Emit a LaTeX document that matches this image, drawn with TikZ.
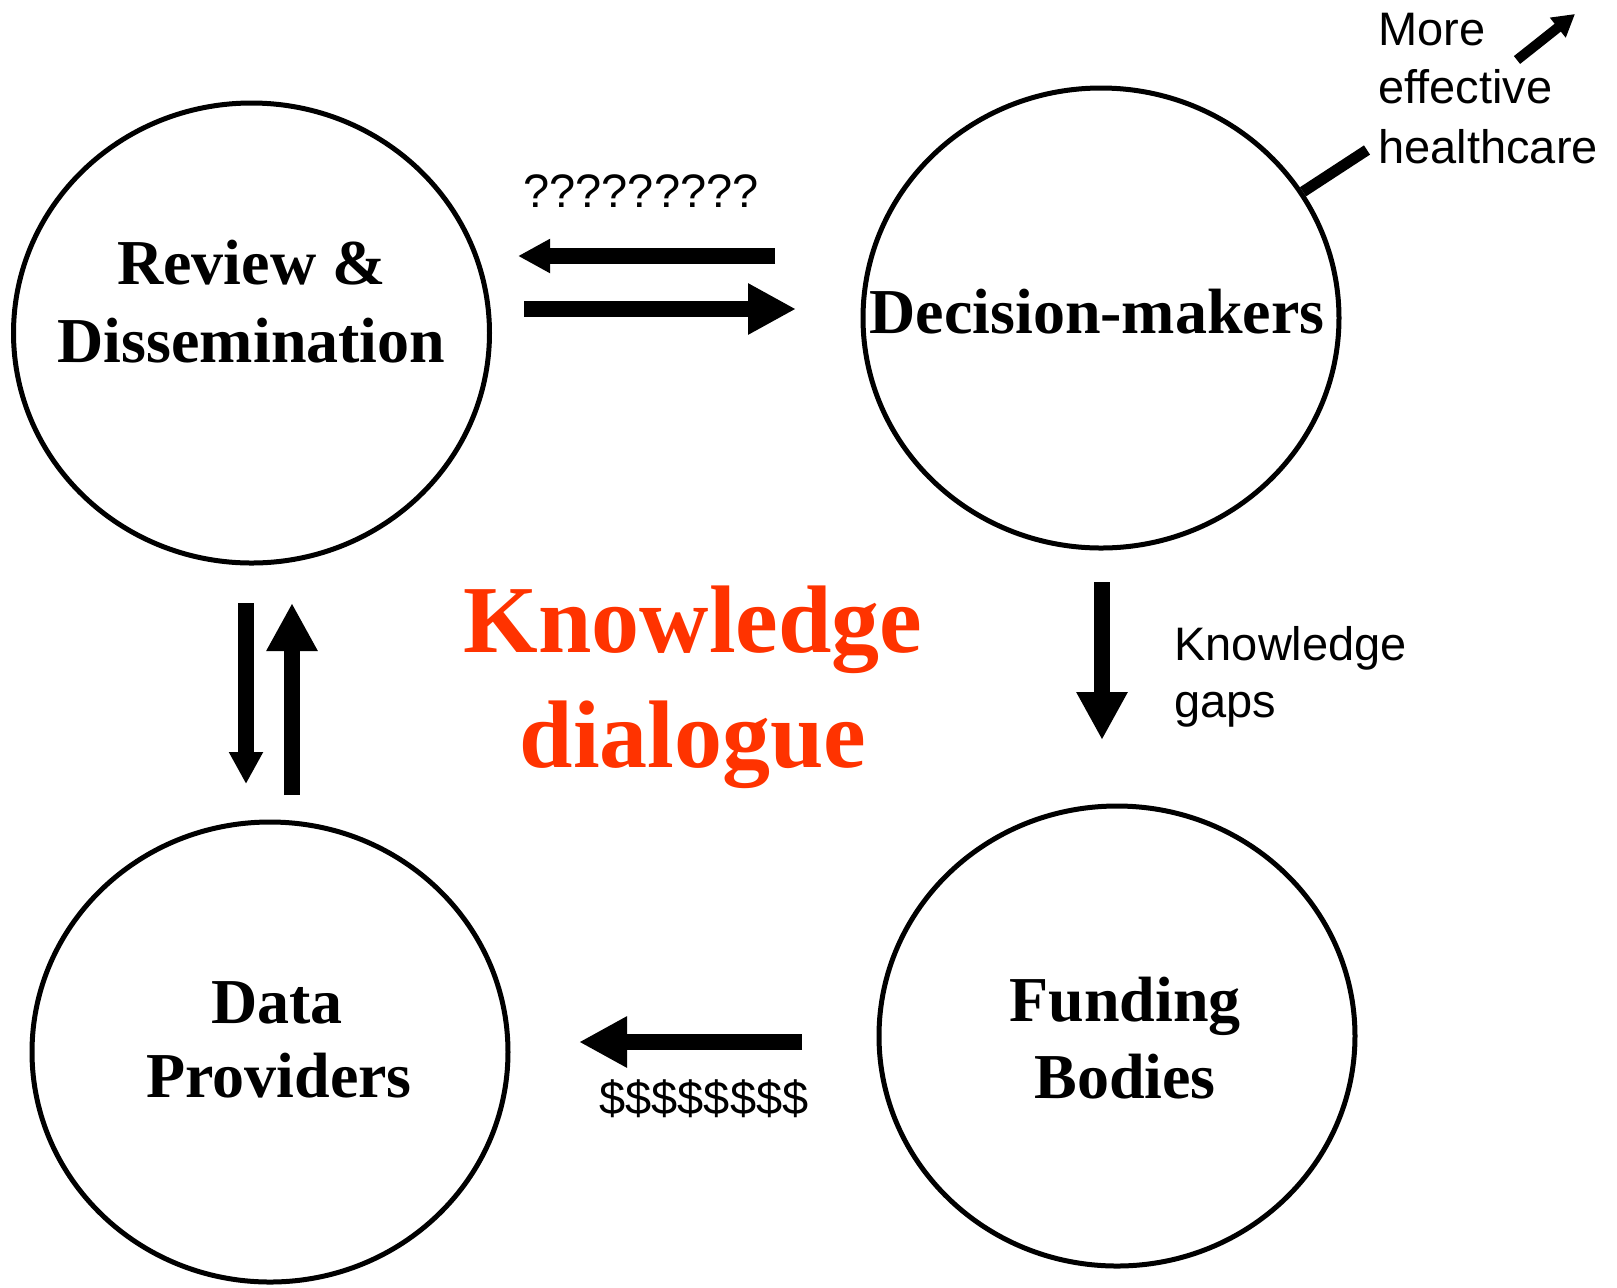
\documentclass[tikz,border=0pt]{standalone}
\usepackage{fontspec}
\setmainfont{Liberation Serif}
\setsansfont{Liberation Sans}
\usetikzlibrary{arrows.meta,shapes.geometric}
\definecolor{kdred}{HTML}{FF3300}
\begin{document}
\begin{tikzpicture}[x=0.5pt,y=-0.5pt,
  party/.style={ellipse, draw, line width=2.5pt, minimum width=238pt, minimum height=230pt, inner sep=0pt},
  bigtext/.style={font=\fontsize{32}{39}\selectfont\bfseries, inner sep=0pt, anchor=base},
  redtext/.style={font=\fontsize{48}{58}\selectfont\bfseries, text=kdred, inner sep=0pt, anchor=base},
  lbl/.style={font=\sffamily\fontsize{23.5}{29}\selectfont, inner sep=0pt, anchor=base west},
  fatsmall/.style={line width=8pt, -{Triangle[length=16pt,width=16pt]}},
  fatbig/.style={line width=8pt, -{Triangle[length=24pt,width=24pt]}},
  thinarrow/.style={line width=5pt, -{Triangle[length=11pt,width=12pt]}},
]
\useasboundingbox (0,0) rectangle (1617,1287);

% circles
\node[party] (rev)  at (251.5,333) {};
\node[party] (dec)  at (1101,318) {};
\node[party] (data) at (270,1052) {};
\node[party] (fund) at (1117,1036) {};

% circle texts
\node[bigtext] (revA) at (251.5,284) {Review \&};
\node[bigtext] (revB) at (251.5,362) {Dissemination};
\node[bigtext] (decA) at (1097,333) {Decision-makers};
\node[bigtext] (dataA) at (277,1023) {Data};
\node[bigtext] (dataB) at (279,1097) {Providers};
\node[bigtext] (fundA) at (1125,1021) {Funding};
\node[bigtext] (fundB) at (1125,1098) {Bodies};

% central title
\node[redtext] (kd1) at (693,652) {Knowledge};
\node[redtext] (kd2) at (693,767) {dialogue};

% labels
\node[lbl] (qq) at (523,207) {?????????};
\node[lbl] (more1) at (1378,45) {More};
\node[lbl] (more2) at (1378,103) {effective};
\node[lbl] (more3) at (1378,163) {healthcare};
\node[lbl] (kg1) at (1174,660) {Knowledge};
\node[lbl] (kg2) at (1174,717) {gaps};
\node[lbl] (dol) at (599,1114) {\$\$\$\$\$\$\$\$};

% arrow end points
\coordinate (qLa) at (775,256);
\coordinate (qLb) at (518,256);
\coordinate (qRa) at (524,309);
\coordinate (qRb) at (796,309);
\coordinate (vDa) at (246,603);
\coordinate (vDb) at (246,784);
\coordinate (vUa) at (292,795);
\coordinate (vUb) at (292,603);
\coordinate (kgA) at (1102,582);
\coordinate (kgB) at (1102,740);
\coordinate (dA) at (802,1042);
\coordinate (dB) at (579,1042);
\coordinate (hcEnd) at (1367,150);
\coordinate (maA) at (1517,60);
\coordinate (maB) at (1575,14);

% arrows
\draw[fatsmall] (qLa) -- (qLb);
\draw[fatbig] (qRa) -- (qRb);
\draw[fatsmall] (vDa) -- (vDb);
\draw[fatbig] (vUa) -- (vUb);
\draw[fatbig] (kgA) -- (kgB);
\draw[fatbig] (dA) -- (dB);
\draw[line width=5.5pt] (dec.32) -- (hcEnd);
\draw[thinarrow] (maA) -- (maB);
\end{tikzpicture}
\end{document}
